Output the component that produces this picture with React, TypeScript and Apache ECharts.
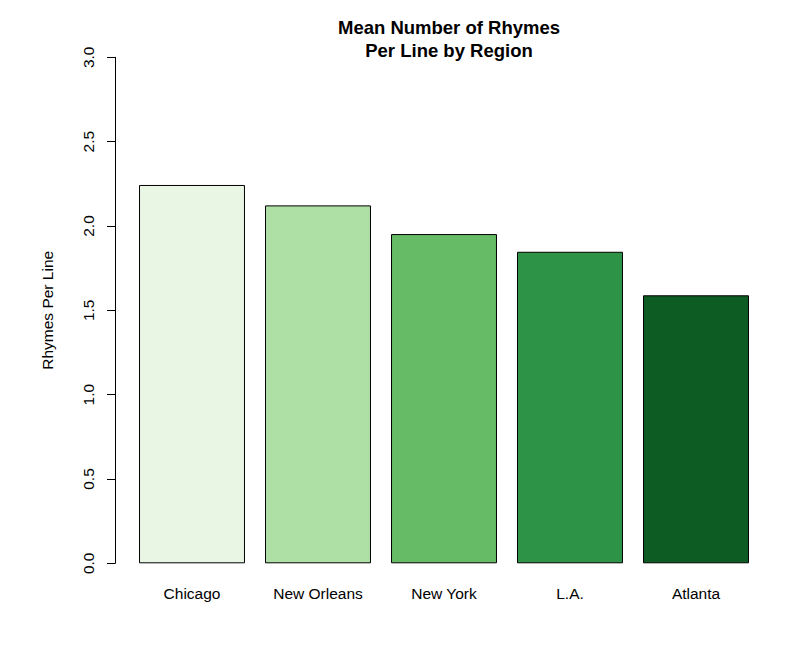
import React, { useEffect, useRef } from "react";
import * as echarts from "echarts";

const categories = ["Chicago", "New Orleans", "New York", "L.A.", "Atlanta"];
const values = [2.243, 2.122, 1.952, 1.847, 1.589];
const colors = ["#EAF6E4", "#AEE0A6", "#66BB66", "#2D9447", "#0C5C24"];
const yTicks = [0, 0.5, 1, 1.5, 2, 2.5, 3];

const FONT = "'Liberation Sans', Arial, Helvetica, sans-serif";

export default function App() {
  const ref = useRef<HTMLDivElement>(null);
  useEffect(() => {
    if (!ref.current) return;
    const chart = echarts.init(ref.current, undefined, { renderer: "svg" });
    chart.setOption({
      animation: false,
      backgroundColor: "#ffffff",
      title: {
        text: "Mean Number of Rhymes\nPer Line by Region",
        left: 444,
        top: 11,
        textAlign: "center",
        textStyle: {
          fontFamily: FONT,
          fontWeight: "bold",
          fontSize: 18.5,
          lineHeight: 23,
          color: "#000",
        },
      },
      grid: { left: 129, right: 812 - 759, top: 57.3, bottom: 660 - 563.3, containLabel: false },
      xAxis: {
        type: "category",
        data: categories,
        axisLine: { show: false },
        axisTick: { show: false },
        axisLabel: { fontFamily: FONT, fontSize: 15.5, color: "#000", margin: 22 },
      },
      yAxis: {
        type: "value",
        min: yTicks[0],
        max: yTicks[yTicks.length - 1],
        interval: 0.5,
        offset: 14,
        name: "Rhymes Per Line",
        nameLocation: "middle",
        nameGap: 60,
        nameTextStyle: { fontFamily: FONT, fontSize: 15.5, color: "#000" },
        splitLine: { show: false },
        axisLine: { show: true, lineStyle: { color: "#000", width: 1 } },
        axisTick: { show: true, length: 8, lineStyle: { color: "#000" } },
        axisLabel: {
          rotate: 90,
          fontFamily: FONT,
          fontSize: 15.5,
          color: "#000",
          margin: 19,
          formatter: (v: number) => v.toFixed(1),
        },
      },
      series: [
        {
          type: "bar",
          data: values.map((v, i) => ({ value: v, itemStyle: { color: colors[i] } })),
          barCategoryGap: "15.9%",
          itemStyle: { borderColor: "#000", borderWidth: 1 },
        },
      ],
    });
    return () => chart.dispose();
  }, []);
  return (
    <div
      ref={ref}
      style={{ position: "fixed", left: 0, top: 0, width: 812, height: 660 }}
    />
  );
}
